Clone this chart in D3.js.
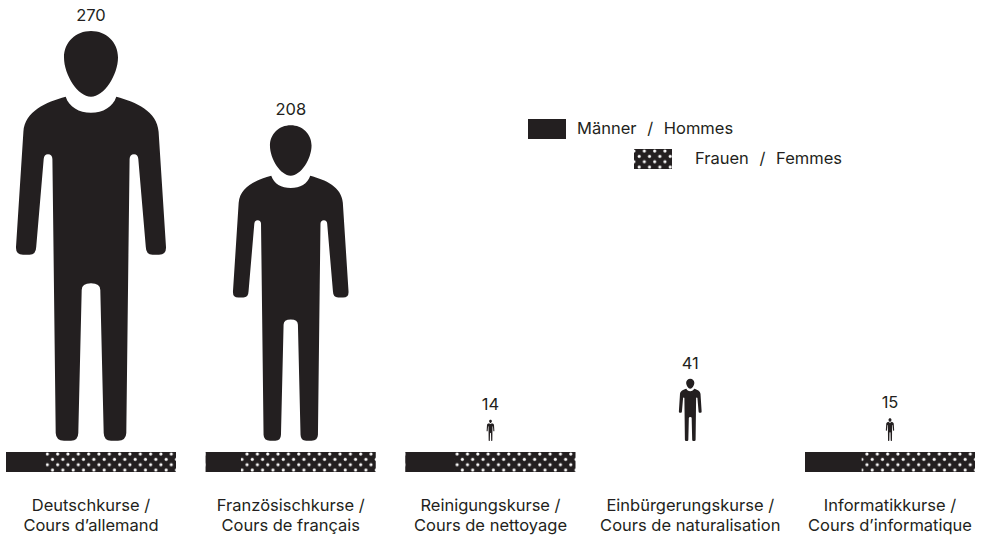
<!DOCTYPE html>
<html>
<head>
<meta charset="utf-8">
<script src="https://cdnjs.cloudflare.com/ajax/libs/d3/7.8.5/d3.min.js"></script>
<style>
  html, body { margin: 0; padding: 0; background: #fff; }
  svg { display: block; }
  text { font-family: Inter, "Noto Sans", sans-serif; font-size: 16.5px; font-weight: 400; fill: #231f20; }
  .legend text { word-spacing: 6px; }
</style>
</head>
<body>
<svg width="987" height="535" viewBox="0 0 987 535"></svg>
<script>
// data
var coursesDe = ["Deutschkurse /", "Französischkurse /", "Reinigungskurse /", "Einbürgerungskurse /", "Informatikkurse /"];
var coursesFr = ["Cours d’allemand", "Cours de français", "Cours de nettoyage", "Cours de naturalisation", "Cours d’informatique"];
var totals = [270, 208, 14, 41, 15];
// men per course, the naturalisation course has no bar in the original
var men = [63, 43, 4, null, 5];
var legendLabels = ["Männer / Hommes", "Frauen / Femmes"];

var ink = "#231f20";
var canvas = d3.select("svg");

// the person, drawn 410 units tall with x = 0 on its centre line
var personHeight = 410;
var person =
  // head
  "M0,0 C15,0 27,11 27,26.5 C27,44 13,65.7 0,65.7 C-13,65.7 -27,44 -27,26.5 C-27,11 -15,0 0,0 Z " +
  // body, right side
  "M0,81.7 C12,81.7 22,76 25.3,65.7 C45,71 66,80 67.6,100.7 L75,216 Q75.4,223.7 68,223.7 L61.5,223.7 " +
  "Q55,223.7 54.8,216 L47.3,128 Q47,123.3 43,123.3 Q38.8,123.3 38.6,128 L37.6,209 L35.3,402 " +
  "Q35,409.7 27,409.7 L20,409.7 Q12.9,409.7 12.7,402 L9.3,259 Q9.3,252.3 0,252.3 " +
  // body, left side
  "Q-9.3,252.3 -9.3,259 L-12.7,402 Q-12.9,409.7 -20,409.7 L-27,409.7 Q-35,409.7 -35.3,402 " +
  "L-37.6,209 L-38.6,128 Q-38.8,123.3 -43,123.3 Q-47,123.3 -47.3,128 L-54.8,216 Q-55,223.7 -61.5,223.7 " +
  "L-68,223.7 Q-75.4,223.7 -75,216 L-67.6,100.7 C-66,80 -45,71 -25.3,65.7 C-22,76 -12,81.7 0,81.7 Z";

// scales
var x = d3.scalePoint().domain(d3.range(totals.length)).range([91, 890]);
var height = d3.scaleLinear().domain([0, 270]).range([0, personHeight]);
var share = d3.scaleLinear().domain([0, 1]).range([0, 170]);

var baseline = 441, barTop = 452, barHeight = 20;

// dots for the women
var dots = canvas.append("defs").append("pattern")
    .attr("id", "dots")
    .attr("patternUnits", "userSpaceOnUse")
    .attr("x", -1.7)
    .attr("width", 10.33)
    .attr("height", 10.67);
dots.append("rect").attr("width", 10.33).attr("height", 10.67).attr("fill", ink);
[[1.7, 2], [6.9, 7.3]].forEach(function(p) {
  dots.append("circle").attr("cx", p[0]).attr("cy", p[1]).attr("r", 1.6).attr("fill", "#fff");
});

var groups = canvas.selectAll("g.course")
    .data(totals)
    .enter()
    .append("g")
    .attr("class", "course")
    .attr("transform", function(d, i) { return "translate(" + x(i) + ",0)"; });

// persons
groups.append("path")
    .attr("d", person)
    .attr("fill", ink)
    .attr("transform", function(d) {
      return "translate(0," + (baseline - height(d)) + ") scale(" + height(d) / personHeight + ")";
    });

// value on top of each person
groups.append("text")
    .attr("text-anchor", "middle")
    .attr("y", function(d) { return baseline - height(d) - 10; })
    .text(function(d) { return d; });

// bars, only where we know the men
var bars = groups.filter(function(d, i) { return men[i] !== null; })
    .append("g")
    .attr("transform", "translate(-85," + barTop + ")");

bars.append("rect")
    .attr("width", share(1))
    .attr("height", barHeight)
    .attr("fill", "url(#dots)");

bars.append("rect")
    .attr("width", function(d) { return share(men[totals.indexOf(d)] / d); })
    .attr("height", barHeight)
    .attr("fill", ink);

// course names
groups.append("text")
    .attr("text-anchor", "middle")
    .attr("y", 511)
    .text(function(d, i) { return coursesDe[i]; });

groups.append("text")
    .attr("text-anchor", "middle")
    .attr("y", 531)
    .text(function(d, i) { return coursesFr[i]; });

// legend
var legend = canvas.append("g").attr("class", "legend");

legend.append("rect")
    .attr("x", 528).attr("y", 119)
    .attr("width", 38).attr("height", 20)
    .attr("fill", ink);
legend.append("text")
    .attr("x", 577).attr("y", 134)
    .text(legendLabels[0]);

legend.append("g")
    .attr("transform", "translate(634,149)")
    .append("rect")
    .attr("width", 38).attr("height", 20)
    .attr("fill", "url(#dots)");
legend.append("text")
    .attr("x", 695).attr("y", 164)
    .text(legendLabels[1]);
</script>
</body>
</html>
